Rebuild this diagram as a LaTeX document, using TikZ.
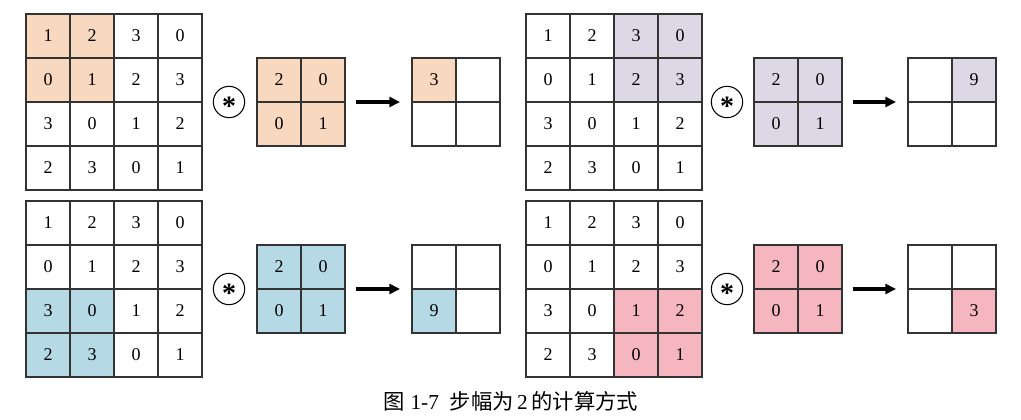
\documentclass[tikz,border=0pt]{standalone}
\usepackage{fontspec}
\setmainfont{Liberation Serif}
\newfontfamily\cjk{Noto Sans CJK SC}
\usetikzlibrary{arrows.meta}
\definecolor{cpeach}{HTML}{F8D8BE}
\definecolor{clav}{HTML}{DDD8E6}
\definecolor{cblue}{HTML}{B5DAE5}
\definecolor{cpink}{HTML}{F5B6C0}
\definecolor{cline}{HTML}{333333}
\tikzset{
  cellbox/.style={draw=cline, line width=0.9pt, minimum size=33pt, inner sep=0pt, outer sep=0pt,
    font=\fontsize{13.5}{14}\selectfont, anchor=center},
  opcirc/.style={draw=black, circle, line width=0.8pt, minimum size=23.5pt, inner sep=0pt},
  startxt/.style={inner sep=0pt, font=\fontsize{21}{21}\selectfont\bfseries},
  arr/.style={line width=2.4pt, -{Triangle[length=8pt,width=7.5pt]}},
}
\newcommand\drawgrid[4]{%
  \foreach \r/\c/\v/\f in {#4} {
    \node[cellbox, fill=\f] (#1-\r-\c) at ({#2+44*\c+22},{#3+44*\r+22}) {\v};
  }%
}
\newcommand\opstar{\smash{\raisebox{-0.48em}{*}}}
\begin{document}
\begin{tikzpicture}[x=0.75pt,y=-0.75pt]
\useasboundingbox (0,0) rectangle (1021,420);
% ---------- top left ----------
\drawgrid{A}{26}{14}{0/0/1/cpeach,0/1/2/cpeach,0/2/3/white,0/3/0/white,
  1/0/0/cpeach,1/1/1/cpeach,1/2/2/white,1/3/3/white,
  2/0/3/white,2/1/0/white,2/2/1/white,2/3/2/white,
  3/0/2/white,3/1/3/white,3/2/0/white,3/3/1/white}
\node[opcirc] (S1) at (229,102) {};
\node[startxt] at (S1.center) {\opstar};
\drawgrid{K1}{257}{58}{0/0/2/cpeach,0/1/0/cpeach,1/0/0/cpeach,1/1/1/cpeach}
\drawgrid{O1}{412}{58}{0/0/3/cpeach,0/1//white,1/0//white,1/1//white}
\draw[arr, shorten <=8pt, shorten >=9pt] (K1-0-1.south east) -- (O1-0-0.south west);
% ---------- top right ----------
\drawgrid{B}{526}{14}{0/0/1/white,0/1/2/white,0/2/3/clav,0/3/0/clav,
  1/0/0/white,1/1/1/white,1/2/2/clav,1/3/3/clav,
  2/0/3/white,2/1/0/white,2/2/1/white,2/3/2/white,
  3/0/2/white,3/1/3/white,3/2/0/white,3/3/1/white}
\node[opcirc] (S2) at (727,102) {};
\node[startxt] at (S2.center) {\opstar};
\drawgrid{K2}{754}{58}{0/0/2/clav,0/1/0/clav,1/0/0/clav,1/1/1/clav}
\drawgrid{O2}{908}{58}{0/0//white,0/1/9/clav,1/0//white,1/1//white}
\draw[arr, shorten <=8pt, shorten >=9pt] (K2-0-1.south east) -- (O2-0-0.south west);
% ---------- bottom left ----------
\drawgrid{C}{26}{201}{0/0/1/white,0/1/2/white,0/2/3/white,0/3/0/white,
  1/0/0/white,1/1/1/white,1/2/2/white,1/3/3/white,
  2/0/3/cblue,2/1/0/cblue,2/2/1/white,2/3/2/white,
  3/0/2/cblue,3/1/3/cblue,3/2/0/white,3/3/1/white}
\node[opcirc] (S3) at (229,289) {};
\node[startxt] at (S3.center) {\opstar};
\drawgrid{K3}{257}{245}{0/0/2/cblue,0/1/0/cblue,1/0/0/cblue,1/1/1/cblue}
\drawgrid{O3}{412}{245}{0/0//white,0/1//white,1/0/9/cblue,1/1//white}
\draw[arr, shorten <=8pt, shorten >=9pt] (K3-0-1.south east) -- (O3-0-0.south west);
% ---------- bottom right ----------
\drawgrid{D}{526}{201}{0/0/1/white,0/1/2/white,0/2/3/white,0/3/0/white,
  1/0/0/white,1/1/1/white,1/2/2/white,1/3/3/white,
  2/0/3/white,2/1/0/white,2/2/1/cpink,2/3/2/cpink,
  3/0/2/white,3/1/3/white,3/2/0/cpink,3/3/1/cpink}
\node[opcirc] (S4) at (727,289) {};
\node[startxt] at (S4.center) {\opstar};
\drawgrid{K4}{754}{245}{0/0/2/cpink,0/1/0/cpink,1/0/0/cpink,1/1/1/cpink}
\drawgrid{O4}{908}{245}{0/0//white,0/1//white,1/0//white,1/1/3/cpink}
\draw[arr, shorten <=8pt, shorten >=9pt] (K4-0-1.south east) -- (O4-0-0.south west);
% ---------- caption ----------
\node[font=\fontsize{16}{17}\selectfont] (cap) at (511,401) {{\cjk 图}\ 1-7\ \ {\cjk 步幅为}\,2\,{\cjk 的计算方式}};
\end{tikzpicture}
\end{document}
